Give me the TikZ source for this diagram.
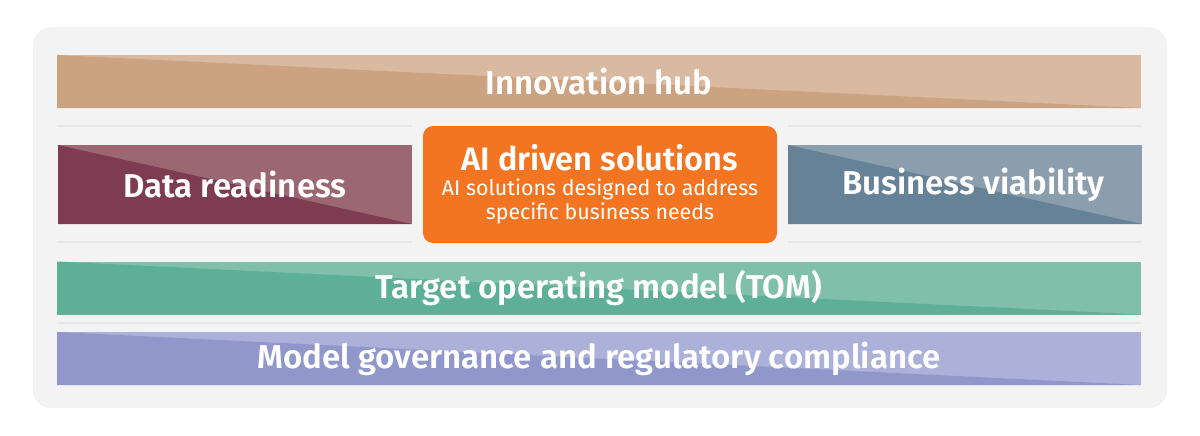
\documentclass[tikz,border=0pt]{standalone}
\usepackage{fontspec}
\setmainfont{Fira Sans}[BoldFont={Fira Sans SemiBold}]
\usetikzlibrary{positioning}
\definecolor{panelgray}{HTML}{F3F3F3}
\definecolor{sepgray}{HTML}{E6E6E6}
\definecolor{hubdark}{HTML}{CCA381}
\definecolor{hublight}{HTML}{D9B9A0}
\definecolor{datadark}{HTML}{7D3C52}
\definecolor{datalight}{HTML}{9B6772}
\definecolor{bizdark}{HTML}{668296}
\definecolor{bizlight}{HTML}{8B9EAE}
\definecolor{tomdark}{HTML}{5DB096}
\definecolor{tomlight}{HTML}{80C0AA}
\definecolor{govdark}{HTML}{9197CB}
\definecolor{govlight}{HTML}{ACB1D9}
\definecolor{aiorange}{HTML}{F47521}
\tikzset{
  layerbar/.style 2 args={
    rectangle,
    fill=#2,
    path picture={
      \fill[#1] (path picture bounding box.north west)
        -- (path picture bounding box.south east)
        -- (path picture bounding box.south west) -- cycle;
    },
    text=white,
    align=center,
    inner sep=0pt,
    font=\bfseries\fontsize{33}{37}\selectfont
  },
  widebar/.style={minimum width=1084pt, minimum height=53pt},
  sidebar/.style={minimum width=354pt, minimum height=79pt},
  aibox/.style={
    rectangle,
    rounded corners=10pt,
    fill=aiorange,
    text=white,
    align=center,
    minimum width=354pt,
    minimum height=117pt,
    inner sep=0pt,
    font=\fontsize{21.4}{24}\selectfont
  },
  sepline/.style={draw=sepgray, line width=2pt}
}

\begin{document}
\begin{tikzpicture}[x=1pt, y=-1pt]
\useasboundingbox (0,0) rectangle (1200,436);
\fill[white] (0,0) rectangle (1200,436);
\fill[panelgray, rounded corners=18pt] (33,27) rectangle (1167,408);

% separators
\draw[sepline] (57,126) -- (412,126);
\draw[sepline] (788,126) -- (1142,126);
\draw[sepline] (57,242) -- (412,242);
\draw[sepline] (788,242) -- (1142,242);
\draw[sepline] (57,323) -- (1141,323);

\node[layerbar={hubdark}{hublight}, widebar] (hub) at (599,81.5) {Innovation hub};
\node[layerbar={datadark}{datalight}, sidebar] (data) at (235,184.5) {Data readiness};
\node[aibox] (ai) at (600,184.5) {{\bfseries\fontsize{32.5}{34}\selectfont AI driven solutions}\\[1pt]
  AI solutions designed to address\\specific business needs};
\node[layerbar={bizdark}{bizlight}, sidebar] (biz) at (965,184.5) {\hspace*{17pt}Business viability};
\node[layerbar={tomdark}{tomlight}, widebar] (tom) at (599,288) {Target operating model (TOM)};
\node[layerbar={govdark}{govlight}, widebar] (gov) at (599,358.5) {Model governance and regulatory compliance};
\end{tikzpicture}
\end{document}
